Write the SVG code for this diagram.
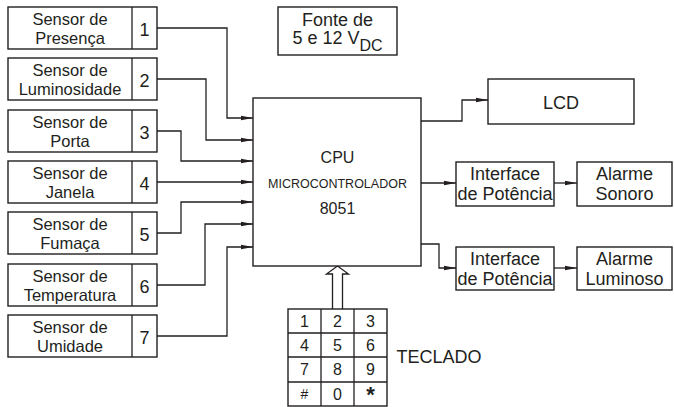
<svg xmlns="http://www.w3.org/2000/svg" width="674" height="407" viewBox="0 0 674 407">
<defs>
<style>
.box{fill:#fff;stroke:#231f20;stroke-width:1.4}
.ln{fill:none;stroke:#231f20;stroke-width:1.3}
text{font-family:"Liberation Sans",Arial,sans-serif;fill:#231f20;text-anchor:middle}
.t{font-size:18px}
.s{font-size:16.5px}
.k{font-size:16px}
</style>
<marker id="ah" viewBox="0 0 12 6" refX="12" refY="3" markerWidth="12" markerHeight="6" markerUnits="userSpaceOnUse" orient="auto">
<path d="M0,0.8 L12,3 L0,5.2 Z" fill="#231f20"/>
</marker>
</defs>
<rect width="674" height="407" fill="#fff"/>
<g id="connectors">
<path class="ln" marker-end="url(#ah)" d="M157,28 H227 V118 H253"/>
<path class="ln" marker-end="url(#ah)" d="M157,79 H206 V140 H253"/>
<path class="ln" marker-end="url(#ah)" d="M157,131 H181 V161 H253"/>
<path class="ln" marker-end="url(#ah)" d="M157,182 H253"/>
<path class="ln" marker-end="url(#ah)" d="M157,233 H181 V202 H253"/>
<path class="ln" marker-end="url(#ah)" d="M157,285 H205 V224 H253"/>
<path class="ln" marker-end="url(#ah)" d="M157,336 H227 V247 H253"/>
<path class="ln" marker-end="url(#ah)" d="M421,121 H462 V100 H488"/>
<path class="ln" marker-end="url(#ah)" d="M421,183 H456"/>
<path class="ln" marker-end="url(#ah)" d="M554,183 H577"/>
<path class="ln" marker-end="url(#ah)" d="M421,244 H439 V268 H456"/>
<path class="ln" marker-end="url(#ah)" d="M554,268 H577"/>
<path class="ln" fill="#fff" d="M332.5,309 V274 H326.5 L337.5,266 L348.5,274 H342.5 V309"/>
</g>
<g id="sensor1"><rect class="box" x="8" y="7" width="149" height="42"/><line class="ln" x1="132" y1="7" x2="132" y2="49"/><text class="s" x="70" y="25">Sensor de</text><text class="s" x="70" y="44">Presença</text><text class="t" x="144.5" y="36">1</text></g>
<g id="sensor2"><rect class="box" x="8" y="58" width="149" height="42"/><line class="ln" x1="132" y1="58" x2="132" y2="100"/><text class="s" x="70" y="76">Sensor de</text><text class="s" x="70" y="95">Luminosidade</text><text class="t" x="144.5" y="87">2</text></g>
<g id="sensor3"><rect class="box" x="8" y="110" width="149" height="42"/><line class="ln" x1="132" y1="110" x2="132" y2="152"/><text class="s" x="70" y="128">Sensor de</text><text class="s" x="70" y="147">Porta</text><text class="t" x="144.5" y="139">3</text></g>
<g id="sensor4"><rect class="box" x="8" y="161" width="149" height="42"/><line class="ln" x1="132" y1="161" x2="132" y2="203"/><text class="s" x="70" y="179">Sensor de</text><text class="s" x="70" y="198">Janela</text><text class="t" x="144.5" y="190">4</text></g>
<g id="sensor5"><rect class="box" x="8" y="212" width="149" height="42"/><line class="ln" x1="132" y1="212" x2="132" y2="254"/><text class="s" x="70" y="230">Sensor de</text><text class="s" x="70" y="249">Fumaça</text><text class="t" x="144.5" y="241">5</text></g>
<g id="sensor6"><rect class="box" x="8" y="264" width="149" height="42"/><line class="ln" x1="132" y1="264" x2="132" y2="306"/><text class="s" x="70" y="282">Sensor de</text><text class="s" x="70" y="301">Temperatura</text><text class="t" x="144.5" y="293">6</text></g>
<g id="sensor7"><rect class="box" x="8" y="315" width="149" height="42"/><line class="ln" x1="132" y1="315" x2="132" y2="357"/><text class="s" x="70" y="333">Sensor de</text><text class="s" x="70" y="352">Umidade</text><text class="t" x="144.5" y="344">7</text></g>
<g id="fonte"><rect class="box" x="278" y="7" width="119" height="48"/><text class="t" x="337.5" y="26">Fonte de</text><text class="t" x="337.5" y="44">5 e 12 V<tspan font-size="16" dy="7">DC</tspan></text></g>
<g id="cpu"><rect class="box" x="253" y="98" width="168" height="168"/><text x="337.5" y="163" font-size="16">CPU</text><text x="337.5" y="188" font-size="12.5">MICROCONTROLADOR</text><text x="337.5" y="214" font-size="16">8051</text></g>
<g id="lcd"><rect class="box" x="488" y="79" width="146" height="45"/><text class="t" x="561" y="109">LCD</text></g>
<g id="interface1"><rect class="box" x="456" y="162" width="98" height="44"/><text class="t" x="505" y="180">Interface</text><text class="t" x="505" y="200">de Potência</text></g>
<g id="alarme-sonoro"><rect class="box" x="577" y="162" width="95" height="44"/><text class="t" x="624.5" y="180">Alarme</text><text class="t" x="624.5" y="200">Sonoro</text></g>
<g id="interface2"><rect class="box" x="456" y="247" width="98" height="43"/><text class="t" x="505" y="265">Interface</text><text class="t" x="505" y="285">de Potência</text></g>
<g id="alarme-luminoso"><rect class="box" x="577" y="247" width="95" height="43"/><text class="t" x="624.5" y="265">Alarme</text><text class="t" x="624.5" y="285">Luminoso</text></g>
<g id="teclado">
<rect class="box" x="288" y="309" width="99" height="97"/>
<path class="ln" d="M321,309 V406 M354,309 V406"/>
<path class="ln" stroke-width="1.8" d="M288,333 H387 M288,357 H387 M288,382 H387"/>
<text class="k" x="304.5" y="327">1</text><text class="k" x="337.5" y="327">2</text><text class="k" x="370.5" y="327">3</text>
<text class="k" x="304.5" y="351">4</text><text class="k" x="337.5" y="351">5</text><text class="k" x="370.5" y="351">6</text>
<text class="k" x="304.5" y="375">7</text><text class="k" x="337.5" y="375">8</text><text class="k" x="370.5" y="375">9</text>
<text x="304.5" y="399" font-size="14">#</text><text class="k" x="337.5" y="400">0</text><text x="370.5" y="402" font-size="22" font-weight="bold">*</text>
<text class="t" x="439" y="363">TECLADO</text>
</g>
</svg>
